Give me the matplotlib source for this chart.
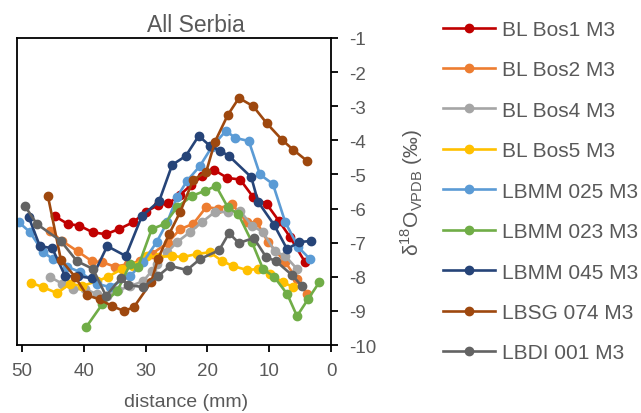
import matplotlib
matplotlib.use('Agg')
import matplotlib.pyplot as plt

plt.rcParams['font.family'] = ['Liberation Sans', 'DejaVu Sans']
plt.rcParams['axes.unicode_minus'] = False
plt.rcParams['mathtext.fontset'] = 'custom'
plt.rcParams['mathtext.rm'] = 'Liberation Sans'

# distance (mm) and d18O values
bos1_x = [44.7, 42.6, 40.7, 38.5, 36.4, 34.3, 32.0, 30.0, 28.0, 26.3, 24.4, 22.6, 20.8, 18.9, 16.8, 14.7, 12.6, 10.4, 8.4, 6.6, 4.2]
bos1_y = [-6.22, -6.45, -6.5, -6.7, -6.75, -6.6, -6.4, -6.1, -5.9, -5.85, -5.6, -5.3, -5.05, -4.87, -5.1, -5.15, -5.66, -5.87, -6.37, -6.84, -7.57]

bos2_x = [45.5, 43.5, 41.0, 38.7, 37.0, 35.0, 32.8, 30.9, 29.0, 26.4, 24.4, 22.3, 20.2, 18.3, 16.0, 13.6, 12.0, 10.2, 7.4, 5.5, 3.9]
bos2_y = [-6.66, -6.95, -7.25, -7.54, -7.57, -7.7, -7.63, -7.54, -7.33, -7.0, -6.6, -6.45, -5.96, -6.0, -5.87, -6.4, -6.4, -6.98, -7.57, -8.07, -8.5]

bos4_x = [45.5, 43.5, 41.7, 39.8, 37.9, 36.2, 34.5, 32.5, 30.4, 29.0, 28.2, 26.5, 24.9, 22.8, 20.9, 18.8, 16.7, 14.7, 12.8, 11.0, 9.1, 7.4, 5.5]
bos4_y = [-8.0, -8.2, -8.36, -8.36, -8.5, -8.56, -8.4, -8.27, -8.13, -7.83, -7.63, -7.28, -6.98, -6.69, -6.4, -6.1, -6.1, -6.07, -6.5, -6.69, -7.25, -7.39, -7.77]

bos5_x = [48.5, 46.6, 44.3, 42.2, 40.3, 37.9, 36.1, 33.8, 32.0, 29.8, 28.0, 25.7, 24.0, 21.7, 19.6, 17.6, 15.9, 13.6, 11.8, 9.9, 7.8, 6.1]
bos5_y = [-8.18, -8.3, -8.48, -8.2, -8.27, -8.13, -8.0, -7.77, -7.68, -7.39, -7.42, -7.39, -7.42, -7.33, -7.28, -7.54, -7.68, -7.8, -7.77, -7.92, -8.16, -8.3]

m025_x = [50.5, 48.7, 46.6, 45.0, 42.7, 40.6, 37.9, 35.8, 32.5, 30.4, 28.2, 26.5, 24.9, 23.3, 21.2, 19.3, 17.0, 15.5, 13.3, 11.5, 9.4, 7.4, 5.3, 3.4]
m025_y = [-6.4, -6.69, -7.27, -7.48, -7.7, -7.86, -8.2, -8.3, -7.98, -7.57, -6.98, -6.4, -5.66, -5.19, -4.75, -4.2, -3.72, -3.93, -4.02, -5.0, -5.28, -6.4, -7.13, -7.48]

m023_x = [39.6, 37.0, 34.6, 32.5, 31.2, 29.0, 26.9, 24.9, 22.5, 20.4, 18.6, 16.7, 15.0, 12.8, 11.0, 9.2, 7.1, 5.5, 3.7, 1.9]
m023_y = [-9.47, -8.8, -8.42, -7.63, -7.7, -6.6, -6.45, -5.96, -5.63, -5.48, -5.34, -5.96, -6.16, -6.98, -7.77, -8.0, -8.5, -9.15, -8.65, -8.16]

m045_x = [48.9, 47.1, 45.1, 43.0, 41.0, 38.7, 36.2, 33.2, 30.6, 27.8, 25.7, 23.5, 21.4, 19.6, 18.0, 16.5, 12.9, 11.8, 9.2, 7.1, 5.2, 3.2]
m045_y = [-6.25, -7.1, -7.16, -7.98, -7.98, -8.04, -7.1, -7.39, -6.22, -5.78, -4.72, -4.46, -3.87, -4.16, -4.3, -4.46, -5.08, -5.8, -6.48, -7.19, -6.98, -6.95]

sg074_x = [45.8, 43.7, 41.4, 39.5, 37.4, 35.4, 33.5, 31.9, 29.1, 28.0, 26.2, 24.4, 22.3, 20.2, 18.8, 16.7, 14.9, 12.6, 10.4, 7.9, 6.1, 3.9]
sg074_y = [-5.63, -7.5, -8.0, -8.54, -8.66, -8.86, -9.0, -8.89, -8.16, -7.48, -6.75, -6.1, -5.16, -4.93, -4.05, -3.26, -2.76, -3.0, -3.5, -3.99, -4.28, -4.6]

di001_x = [49.5, 47.6, 43.7, 41.1, 38.5, 36.4, 34.0, 32.8, 30.4, 28.0, 26.0, 23.3, 21.2, 18.1, 16.5, 14.9, 12.5, 10.5, 8.9, 6.3, 4.7]
di001_y = [-5.93, -6.45, -6.95, -7.54, -7.77, -8.56, -8.04, -8.24, -8.3, -7.98, -7.68, -7.8, -7.48, -7.22, -6.72, -7.01, -6.86, -7.42, -7.54, -7.95, -8.27]

series = [
    ('BL Bos1 M3', bos1_x, bos1_y, '#C00000'),
    ('BL Bos2 M3', bos2_x, bos2_y, '#ED7D31'),
    ('BL Bos4 M3', bos4_x, bos4_y, '#A5A5A5'),
    ('BL Bos5 M3', bos5_x, bos5_y, '#FFC000'),
    ('LBMM 025 M3', m025_x, m025_y, '#5B9BD5'),
    ('LBMM 023 M3', m023_x, m023_y, '#70AD47'),
    ('LBMM 045 M3', m045_x, m045_y, '#264478'),
    ('LBSG 074 M3', sg074_x, sg074_y, '#9E480E'),
    ('LBDI 001 M3', di001_x, di001_y, '#636363'),
]

txt = '#595959'
fig = plt.figure(figsize=(6.41, 4.14), dpi=100)
ax = fig.add_axes([0.0265, 0.164, 0.4899, 0.742])

for name, x, y, c in series:
    ax.plot(x, y, '-o', color=c, lw=1.9, ms=6, label=name)

ax.set_xlim(50.8, 0)
ax.set_ylim(-10, -1)
ax.set_xticks([50, 40, 30, 20, 10, 0])
ax.set_yticks(range(-10, 0))
ax.yaxis.tick_right()
ax.yaxis.set_label_position('right')
for s in ax.spines.values():
    s.set_linewidth(1.3)
ax.tick_params(direction='out', length=5, width=1.3, colors='black',
               labelcolor=txt, labelsize=13.5)
ax.tick_params(axis='y', pad=8)
ax.tick_params(axis='x', pad=7)

ax.set_title('All Serbia', color=txt, fontsize=16.5, pad=5, x=0.57)
ax.set_xlabel('distance (mm)', color=txt, fontsize=14, labelpad=6)
ax.xaxis.set_label_coords(0.54, -0.155)
ax.set_ylabel(r'δ$^{\mathregular{18}}$O$_{\mathregular{VPDB}}$ (‰)', color=txt, fontsize=15)
ax.yaxis.set_label_coords(1.215, 0.5)

fig.legend(loc='upper left', bbox_to_anchor=(0.6625, 0.995), frameon=False,
           fontsize=15, labelcolor=txt, handlelength=2.5, handletextpad=0.3,
           labelspacing=1.03)

fig.savefig('out.png', dpi=100)
